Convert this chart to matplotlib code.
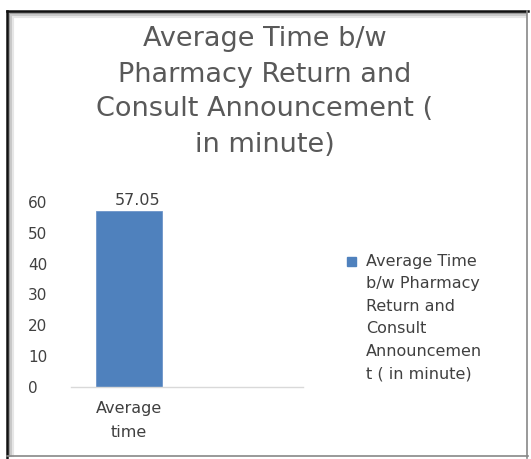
import matplotlib
matplotlib.use("Agg")
from matplotlib import pyplot as plt
from matplotlib.lines import Line2D
from matplotlib.patches import Rectangle

# Chart data
categories = ["Average\ntime", ""]
values = [57.05, None]
series_name = "Average Time\nb/w Pharmacy\nReturn and\nConsult\nAnnouncemen\nt ( in minute)"
title = "Average Time b/w\nPharmacy Return and\nConsult Announcement (\nin minute)"
yticks = [0, 10, 20, 30, 40, 50, 60]

W, H = 531, 459
bar_color = "#4f81bd"
text_color = "#404040"
plt.rcParams["font.family"] = ["DejaVu Sans"]
fig = plt.figure(figsize=(W / 100, H / 100), dpi=100)
fig.patch.set_facecolor("white")

# plot area in pixels: x 71..303, y 202..387
ax = fig.add_axes([71 / W, 1 - 387 / H, (303 - 71) / W, (387 - 202) / H])
xs = list(range(len(categories)))
heights = [v if v is not None else 0 for v in values]
bars = ax.bar(xs, heights, width=0.57, color=bar_color, edgecolor="#6d95c9",
              linewidth=0.6)
for x, v in zip(xs, values):
    if v is not None:
        ax.annotate(f"{v:.2f}", (x, v), xytext=(6, 2), textcoords="offset points",
                    ha="center", va="bottom", fontsize=11.5, color=text_color)

ax.set_xlim(-0.5, len(categories) - 0.5)
ax.set_ylim(0, 60)
ax.set_yticks(yticks)
ax.set_xticks(xs)
ax.set_xticklabels(categories, fontsize=11.5, color=text_color, linespacing=1.75)
ax.tick_params(axis="y", length=0, labelsize=11, labelcolor=text_color, pad=31)
ax.tick_params(axis="x", length=0, pad=10)
for s in ["top", "right", "left"]:
    ax.spines[s].set_visible(False)
ax.spines["bottom"].set_color("#d9d9d9")
ax.spines["bottom"].set_linewidth(1)
for lbl in ax.get_yticklabels():
    lbl.set_horizontalalignment("left")

fig.text(265 / W, 1 - 92 / H, title, ha="center", va="center", fontsize=19.5,
         color="#595959", linespacing=1.45)

# legend: swatch + wrapped series name
fig.add_artist(Rectangle((347 / W, 1 - 266 / H), 9 / W, 9 / H,
                         transform=fig.transFigure, color=bar_color))
fig.text(366 / W, 1 - 254 / H, series_name, ha="left", va="top", fontsize=11.5,
         color=text_color, linespacing=1.62)

# frame around the chart
def px_line(x0, y0, x1, y1, color, lw):
    fig.add_artist(Line2D([x0 / W, x1 / W], [1 - y0 / H, 1 - y1 / H],
                          transform=fig.transFigure, color=color, lw=lw))

for i, c in enumerate(["#999999", "#c8c8c8", "#e6e6e6"]):
    px_line(9 + i * 2, 13 + i * 2, 9 + i * 2, 456, c, 1.5)
    px_line(9 + i * 2, 13 + i * 2, 526, 13 + i * 2, c, 1.5)
px_line(7, 11, 7, 458, "#111111", 1.8)
px_line(7, 11, 528, 11, "#111111", 1.8)
px_line(527, 11, 527, 458, "#888888", 1.2)
px_line(7, 456, 528, 456, "#888888", 1.2)

fig.savefig("out.png", dpi=100, facecolor="white")
